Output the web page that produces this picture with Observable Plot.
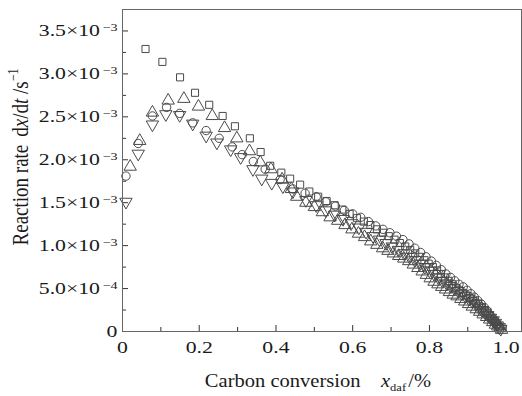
<!DOCTYPE html>
<html><head><meta charset="utf-8">
<script src="https://cdn.jsdelivr.net/npm/d3@7"></script>
<script src="https://cdn.jsdelivr.net/npm/@observablehq/plot@0.6"></script>
<style>html,body{margin:0;padding:0;background:#fff}svg{display:block}</style>
</head><body><div id="chart"></div>
<script>
// Reaction rate values are in units of 1e-3 s^-1
const squareX = [0.060,0.104,0.150,0.189,0.226,0.261,0.293,0.332,0.360,0.385,0.414,0.437,0.463,0.487,0.510,0.532,0.553,0.573,0.592,0.611,0.629,0.646,0.663,0.679,0.694,0.709,0.723,0.737,0.750,0.763,0.775,0.787,0.798,0.809,0.820,0.830,0.840,0.850,0.860,0.869,0.878,0.887,0.896,0.905,0.913,0.921,0.929,0.937,0.944,0.951,0.958,0.964,0.970,0.975,0.980,0.984];
const squareY = [3.29,3.14,2.96,2.78,2.64,2.51,2.39,2.25,2.09,1.93,1.85,1.78,1.71,1.63,1.57,1.52,1.47,1.42,1.37,1.32,1.28,1.24,1.19,1.15,1.11,1.07,1.03,0.99,0.95,0.91,0.87,0.83,0.79,0.75,0.71,0.67,0.63,0.59,0.55,0.51,0.48,0.45,0.42,0.39,0.36,0.33,0.30,0.27,0.24,0.21,0.18,0.15,0.12,0.09,0.06,0.04];

const circleX = [0.009,0.041,0.078,0.115,0.149,0.183,0.218,0.252,0.286,0.312,0.341,0.372,0.411,0.444,0.476,0.505,0.530,0.555,0.578,0.600,0.621,0.641,0.660,0.679,0.697,0.714,0.731,0.747,0.762,0.777,0.791,0.805,0.818,0.831,0.843,0.855,0.866,0.877,0.888,0.898,0.908,0.917,0.926,0.935,0.943,0.951,0.958,0.965,0.971,0.977,0.982];
const circleY = [1.81,2.19,2.51,2.61,2.54,2.43,2.34,2.25,2.15,2.06,1.98,1.89,1.77,1.66,1.61,1.57,1.51,1.46,1.41,1.37,1.33,1.28,1.23,1.19,1.15,1.11,1.07,1.02,0.97,0.92,0.87,0.82,0.77,0.72,0.67,0.63,0.59,0.55,0.52,0.48,0.44,0.40,0.36,0.32,0.28,0.24,0.19,0.15,0.11,0.08,0.05];

const upX = [0.020,0.045,0.078,0.119,0.160,0.198,0.234,0.266,0.298,0.331,0.359,0.387,0.416,0.440,0.454,0.478,0.500,0.521,0.541,0.561,0.580,0.598,0.615,0.631,0.647,0.663,0.678,0.692,0.706,0.720,0.733,0.746,0.758,0.770,0.781,0.792,0.802,0.812,0.822,0.832,0.842,0.852,0.862,0.872,0.882,0.892,0.902,0.912,0.922,0.931,0.940,0.949,0.957,0.965,0.972,0.978,0.984,0.988];
const upY = [1.92,2.22,2.55,2.69,2.71,2.62,2.51,2.37,2.25,2.10,1.97,1.89,1.77,1.66,1.57,1.50,1.45,1.39,1.33,1.29,1.24,1.19,1.14,1.10,1.05,1.01,0.97,0.94,0.91,0.88,0.85,0.82,0.78,0.74,0.70,0.66,0.62,0.58,0.55,0.52,0.49,0.46,0.43,0.41,0.38,0.35,0.32,0.29,0.26,0.23,0.20,0.17,0.14,0.11,0.08,0.06,0.04,0.02];

const downX = [0.009,0.041,0.078,0.113,0.149,0.183,0.218,0.246,0.282,0.308,0.340,0.363,0.389,0.418,0.444,0.478,0.505,0.530,0.553,0.575,0.596,0.616,0.635,0.653,0.670,0.687,0.703,0.719,0.734,0.748,0.762,0.775,0.788,0.800,0.812,0.823,0.834,0.845,0.855,0.865,0.875,0.885,0.894,0.903,0.912,0.921,0.929,0.937,0.945,0.952,0.959,0.966,0.972,0.977,0.982,0.986];
const downY = [1.51,2.07,2.41,2.53,2.52,2.42,2.28,2.20,2.12,2.03,1.89,1.78,1.73,1.69,1.63,1.53,1.47,1.41,1.36,1.31,1.26,1.21,1.16,1.11,1.07,1.03,0.99,0.95,0.91,0.87,0.83,0.79,0.75,0.71,0.67,0.63,0.59,0.56,0.53,0.50,0.47,0.44,0.41,0.38,0.35,0.32,0.28,0.25,0.22,0.19,0.16,0.13,0.10,0.07,0.05,0.03];

const yTicks = [0,0.0005,0.001,0.0015,0.002,0.0025,0.003,0.0035];
const yTickLabels = ["0","5.0×10^−4","1.0×10^−3","1.5×10^−3","2.0×10^−3","2.5×10^−3","3.0×10^−3","3.5×10^−3"];
const yMinor = [0.00025,0.00075,0.00125,0.00175,0.00225,0.00275,0.00325];
const xTicks = [0,0.2,0.4,0.6,0.8,1.0];
const xTickLabels = ["0","0.2","0.4","0.6","0.8","1.0"];
const xMinor = [0.1,0.3,0.5,0.7,0.9];

const toRows = (xs, ys) => xs.map((x, i) => ({x, y: ys[i] * 1e-3}));
const squares = toRows(squareX, squareY);
const circles = toRows(circleX, circleY);
const ups = toRows(upX, upY);
const downs = toRows(downX, downY);

const W = 522, H = 396, ML = 122, MR = 1, MT = 9, MB = 65;
const PW = W - ML - MR, PH = H - MT - MB;
const ink = "#4a4a4a";
const dotStyle = {x: "x", y: "y", fill: "none", stroke: ink, strokeWidth: 1};

const chart = Plot.plot({
  width: W, height: H,
  marginLeft: ML, marginRight: MR, marginTop: MT, marginBottom: MB,
  style: {fontFamily: '"Liberation Serif", "Times New Roman", serif', fontSize: "17px", background: "#fff", color: "#1a1a1a"},
  x: {domain: [0, 1.04]},
  y: {domain: [0, 0.00375]},
  marks: [
    Plot.tickY(yMinor, {y: d => d, insetRight: PW - 4, stroke: "#333"}),
    Plot.tickY(yTicks, {y: d => d, insetRight: PW - 6, stroke: "#333"}),
    Plot.tickX(xMinor, {x: d => d, insetTop: PH - 4, stroke: "#333"}),
    Plot.tickX(xTicks, {x: d => d, insetTop: PH - 6, stroke: "#333"}),
    Plot.axisY(yTicks, {tickSize: 0, tickPadding: 5, tickFormat: d => yTickLabels[yTicks.indexOf(d)], label: null, fill: "#1a1a1a"}),
    Plot.axisX(xTicks, {tickSize: 0, tickPadding: 9, tickFormat: d => xTickLabels[xTicks.indexOf(d)], label: null, fill: "#1a1a1a"}),
    Plot.dot(squares, {...dotStyle, symbol: "square", r: 4}),
    Plot.dot(circles, {...dotStyle, symbol: "circle", r: 4.2}),
    Plot.dot(ups, {...dotStyle, symbol: "triangle", r: 4.6}),
    Plot.dot(downs, {...dotStyle, symbol: "triangle", r: 4.6, rotate: 180}),
    Plot.frame({stroke: "#666"})
  ]
});

const svg = d3.select(chart);
const KX = 1.28;
function stretch(el, k) {
  const t = el.getAttribute("transform");
  if (t) {
    el.setAttribute("transform", t + ` scale(${k},1)`);
  } else {
    const x = +el.getAttribute("x") || 0, y = +el.getAttribute("y") || 0;
    el.removeAttribute("x"); el.removeAttribute("y");
    el.setAttribute("transform", `translate(${x},${y}) scale(${k},1)`);
  }
}
svg.selectAll('g[aria-label="y-axis tick label"] text').each(function () {
  const s = this.textContent;
  if (s.includes("^")) {
    const [base, sup] = s.split("^");
    this.textContent = "";
    const t = d3.select(this);
    t.append("tspan").text(base);
    t.append("tspan").attr("font-size", "11px").attr("dy", "-0.45em").attr("dx", "2").text(sup);
  }
  stretch(this, KX);
});
svg.selectAll('g[aria-label="x-axis tick label"] text').each(function () { stretch(this, KX); });

const font = '"Liberation Serif", "Times New Roman", serif';
// x axis title
const xt = svg.append("text")
  .attr("transform", `translate(318,387) scale(1.14,1)`)
  .attr("text-anchor", "middle").attr("font-family", font).attr("font-size", "18px").attr("fill", "#1a1a1a");
xt.append("tspan").text("Carbon conversion");
xt.append("tspan").attr("dx", "18").attr("font-style", "italic").text("x");
xt.append("tspan").attr("font-size", "11px").attr("dy", "4").text("daf");
xt.append("tspan").attr("dy", "-4").attr("dx", "2").text("/%");

// y axis title
const yt = svg.append("text")
  .attr("transform", `translate(28,157) scale(1.2,1) rotate(-90)`)
  .attr("text-anchor", "middle").attr("font-family", font).attr("font-size", "19px").attr("fill", "#1a1a1a");
yt.append("tspan").text("Reaction rate");
yt.append("tspan").attr("dx", "8").text("d");
yt.append("tspan").attr("font-style", "italic").text("x");
yt.append("tspan").text("/d");
yt.append("tspan").attr("font-style", "italic").text("t");
yt.append("tspan").text(" /s");
yt.append("tspan").attr("font-size", "12px").attr("dy", "-8").text("−1");

document.getElementById("chart").appendChild(chart);
</script>
</body></html>
